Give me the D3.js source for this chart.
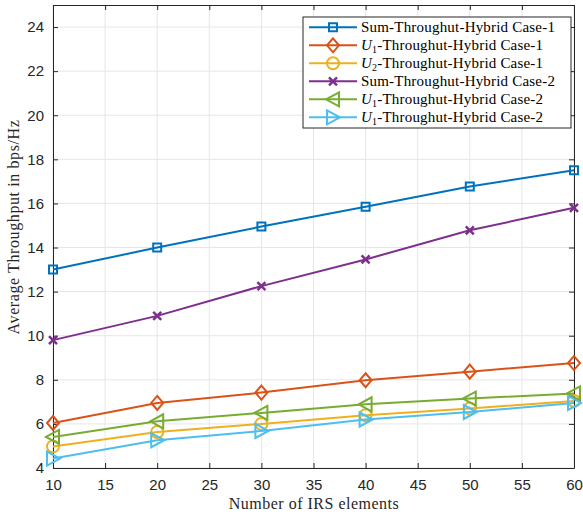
<!DOCTYPE html>
<html>
<head>
<meta charset="utf-8">
<script src="https://cdn.jsdelivr.net/npm/d3@7"></script>
<style>
    body { margin: 0; background: #fff; }
    svg { display: block; }
</style>
</head>
<body>
<script>
// Number of IRS elements on the x axis
var irsElements = [10, 20, 30, 40, 50, 60];

// series values (bps/Hz)
var sumCase1 = [13.0, 14.0, 14.95, 15.85, 16.77, 17.5];
var u1Case1 = [6.04, 6.95, 7.42, 7.98, 8.37, 8.76];
var u2Case1 = [4.98, 5.63, 6.0, 6.39, 6.7, 7.04];
var sumCase2 = [9.8, 10.9, 12.25, 13.46, 14.78, 15.8];
var u1Case2 = [5.41, 6.12, 6.5, 6.89, 7.15, 7.38];
var u1Case2b = [4.43, 5.26, 5.68, 6.2, 6.54, 6.95];

var xTicks = [10, 15, 20, 25, 30, 35, 40, 45, 50, 55, 60];
var yTicks = [4, 6, 8, 10, 12, 14, 16, 18, 20, 22, 24];

// legend names: [prefix, subscript, rest]
var series = [
    {name: ["Sum-Throughut-Hybrid Case-1"], values: sumCase1,
     color: "#0072BD", marker: "square"},
    {name: ["U", "1", "-Throughut-Hybrid Case-1"], values: u1Case1,
     color: "#D95319", marker: "diamond"},
    {name: ["U", "2", "-Throughut-Hybrid Case-1"], values: u2Case1,
     color: "#EDB120", marker: "circle"},
    {name: ["Sum-Throughut-Hybrid Case-2"], values: sumCase2,
     color: "#7E2F8E", marker: "x"},
    {name: ["U", "1", "-Throughut-Hybrid Case-2"], values: u1Case2,
     color: "#77AC30", marker: "left"},
    {name: ["U", "1", "-Throughut-Hybrid Case-2"], values: u1Case2b,
     color: "#4DBEEE", marker: "right"}
];

var margin = {top: 5, right: 9, bottom: 50, left: 53},
    width = 583 - margin.left - margin.right,
    height = 518 - margin.top - margin.bottom;

var svg = d3.select("body").append("svg")
    .attr("width", 583)
    .attr("height", 518);

var g = svg.append("g")
    .attr("transform", "translate(" + margin.left + "," + margin.top + ")");

var xScale = d3.scaleLinear().domain([10, 60]).range([0, width]);
var yScale = d3.scaleLinear().domain([4, 25]).range([height, 0]);

// grid
g.append("g").selectAll("line").data(xTicks).enter().append("line")
    .attr("x1", function(d) { return xScale(d); })
    .attr("x2", function(d) { return xScale(d); })
    .attr("y1", 0).attr("y2", height)
    .attr("stroke", "#e6e6e6").attr("stroke-width", 1);
g.append("g").selectAll("line").data(yTicks).enter().append("line")
    .attr("y1", function(d) { return yScale(d); })
    .attr("y2", function(d) { return yScale(d); })
    .attr("x1", 0).attr("x2", width)
    .attr("stroke", "#e6e6e6").attr("stroke-width", 1);

// axes, ticks pointing inward like MATLAB
function styleAxis(sel) {
    sel.selectAll("path").attr("stroke", "#262626").attr("stroke-width", 1);
    sel.selectAll("line").attr("stroke", "#262626");
    sel.selectAll("text").attr("fill", "#262626")
        .style("font-family", "Liberation Sans, Arial, sans-serif")
        .style("font-size", "15px");
}

var xAxis = d3.axisBottom(xScale).tickValues(xTicks).tickSizeInner(-5)
    .tickSizeOuter(0).tickPadding(11);
g.append("g").attr("transform", "translate(0," + height + ")")
    .call(xAxis).call(styleAxis);
g.append("g").call(d3.axisTop(xScale).tickValues(xTicks).tickSizeInner(-5)
    .tickSizeOuter(0).tickFormat("")).call(styleAxis);

var yAxis = d3.axisLeft(yScale).tickValues(yTicks).tickSizeInner(-5)
    .tickSizeOuter(0).tickPadding(9);
g.append("g").call(yAxis).call(styleAxis);
g.append("g").attr("transform", "translate(" + width + ",0)")
    .call(d3.axisRight(yScale).tickValues(yTicks).tickSizeInner(-5)
    .tickSizeOuter(0).tickFormat("")).call(styleAxis);

// marker drawing
function drawMarker(sel, type, color) {
    var p;
    if (type === "square") {
        p = "M-4,-4h8v8h-8z";
    } else if (type === "diamond") {
        p = "M0,-7L6,0L0,7L-6,0Z";
    } else if (type === "circle") {
        p = "M-6,0A6,6 0 1,0 6,0A6,6 0 1,0 -6,0Z";
    } else if (type === "x") {
        p = "M-4,-4L4,4M-4,4L4,-4";
    } else if (type === "left") {
        p = "M-7,0L6,-7L6,7Z";
    } else {
        p = "M7,0L-6,-7L-6,7Z";
    }
    sel.append("path").attr("d", p)
        .attr("fill", "none").attr("stroke", color)
        .attr("stroke-width", type === "x" ? 2.5 : 2);
}

var line = d3.line()
    .x(function(d, i) { return xScale(irsElements[i]); })
    .y(function(d) { return yScale(d); });

series.forEach(function(s) {
    g.append("path").datum(s.values)
        .attr("d", line)
        .attr("fill", "none")
        .attr("stroke", s.color)
        .attr("stroke-width", 2);
    g.append("g").selectAll("g").data(s.values).enter().append("g")
        .attr("transform", function(d, i) {
            return "translate(" + xScale(irsElements[i]) + "," + yScale(d) + ")";
        })
        .each(function() { drawMarker(d3.select(this), s.marker, s.color); });
});

// axis labels
svg.append("text")
    .attr("x", 314)
    .attr("y", 509)
    .attr("text-anchor", "middle")
    .style("font-family", "Liberation Serif, serif")
    .style("font-size", "16px")
    .style("letter-spacing", "0.5px")
    .attr("fill", "#262626")
    .text("Number of IRS elements");

svg.append("text")
    .attr("transform", "translate(19,227) rotate(-90)")
    .attr("text-anchor", "middle")
    .style("font-family", "Liberation Serif, serif")
    .style("font-size", "16px")
    .style("letter-spacing", "0.6px")
    .attr("fill", "#262626")
    .text("Average Throughput in bps/Hz");

// legend
var legend = svg.append("g").attr("transform", "translate(303,17)");
legend.append("rect")
    .attr("width", 268).attr("height", 111)
    .attr("fill", "#fff").attr("stroke", "#262626").attr("stroke-width", 1);

series.forEach(function(s, i) {
    var row = legend.append("g")
        .attr("transform", "translate(0," + (10.3 + i * 18) + ")");
    row.append("line").attr("x1", 6).attr("x2", 54)
        .attr("stroke", s.color).attr("stroke-width", 2);
    drawMarker(row.append("g").attr("transform", "translate(30,0)"),
        s.marker, s.color);
    var t = row.append("text").attr("x", 58).attr("y", 5)
        .style("font-family", "Liberation Serif, serif")
        .style("font-size", "15px")
        .style("letter-spacing", "0.2px")
        .attr("fill", "#000");
    if (s.name.length === 1) {
        t.text(s.name[0]);
    } else {
        t.append("tspan").style("font-style", "italic").text(s.name[0]);
        t.append("tspan").attr("dy", 3).style("font-size", "10px").text(s.name[1]);
        t.append("tspan").attr("dy", -3).text(s.name[2]);
    }
});
</script>
</body>
</html>
